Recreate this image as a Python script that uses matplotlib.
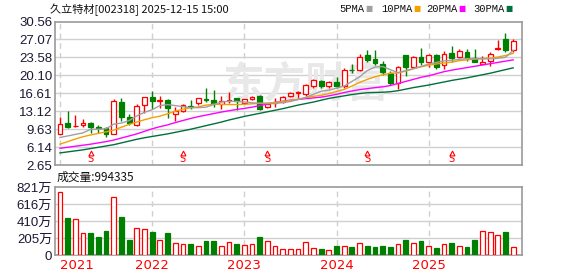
import matplotlib
matplotlib.use('Agg')
import matplotlib.pyplot as plt
import numpy as np

# monthly K-line 2021-01 .. 2025-12
opens = [8.7, 10.77, 10.15, 10.45, 10.9, 10.05, 9.86, 8.7, 15.0, 11.9,
         10.45, 14.3, 15.8, 15.12, 15.3, 12.6, 13.2, 14.15, 14.7, 15.4,
         15.3, 14.5, 15.1, 15.6, 14.8, 15.5, 16.0, 13.85, 14.8, 14.97,
         16.1, 16.7, 16.42, 18.0, 19.08, 17.95, 18.7, 17.95, 21.15, 21.05,
         24.0, 23.34, 22.26, 20.48, 18.58, 24.0, 21.8, 23.6, 22.64, 24.03,
         22.13, 24.4, 23.65, 24.54, 23.5, 22.3, 22.83, 25.3, 27.07, 25.1]
highs = [12.0, 13.19, 12.4, 11.55, 11.1, 10.4, 10.12, 15.5, 15.6, 12.6,
         14.6, 15.8, 17.0, 16.16, 15.4, 13.9, 14.5, 15.2, 15.7, 17.6,
         17.2, 16.0, 16.9, 15.6, 15.5, 16.0, 16.3, 14.6, 15.6, 16.1,
         16.86, 17.05, 18.45, 19.4, 19.2, 18.9, 19.8, 21.5, 22.26, 24.16,
         24.99, 24.99, 22.9, 20.9, 21.94, 24.1, 23.9, 25.4, 24.16, 24.16,
         24.8, 25.7, 25.2, 25.2, 25.2, 23.9, 24.54, 26.95, 28.3, 27.2]
lows = [8.6, 9.93, 10.0, 10.1, 8.9, 8.95, 8.16, 8.6, 11.2, 10.4,
        10.25, 12.7, 13.6, 13.76, 11.8, 11.3, 13.0, 13.6, 14.4, 15.0,
        13.9, 13.6, 14.8, 13.4, 14.7, 15.3, 13.4, 13.7, 13.9, 14.8,
        15.9, 15.66, 16.1, 17.7, 17.7, 17.7, 17.56, 17.7, 20.54, 20.99,
        22.64, 22.1, 20.1, 18.26, 17.5, 19.9, 21.7, 22.1, 21.8, 21.37,
        21.24, 22.64, 23.4, 22.9, 22.64, 22.26, 21.87, 24.92, 24.54, 24.7]
closes = [10.6, 10.12, 10.3, 10.9, 10.1, 9.85, 8.75, 15.1, 12.0, 10.9,
          14.16, 15.8, 15.1, 15.25, 13.8, 13.2, 14.3, 13.95, 15.6, 15.2,
          14.7, 15.1, 15.3, 15.1, 15.5, 15.95, 13.6, 14.6, 14.95, 15.8,
          16.61, 16.8, 18.13, 19.15, 17.95, 18.7, 18.1, 21.1, 21.05, 23.6,
          23.15, 22.57, 20.73, 18.58, 21.7, 21.8, 23.6, 22.6, 24.03, 21.7,
          24.16, 23.4, 24.8, 23.4, 22.64, 22.64, 24.22, 25.5, 24.99, 26.7]
# volume in 万
volumes = [765, 445, 440, 260, 264, 216, 288, 705, 456, 180,
           320, 308, 276, 176, 264, 140, 128, 132, 104, 168,
           168, 104, 152, 132, 116, 128, 216, 164, 104, 68,
           68, 68, 156, 80, 72, 56, 108, 104, 96, 140,
           108, 96, 108, 96, 128, 180, 144, 168, 104, 84,
           128, 144, 104, 96, 180, 288, 276, 236, 276, 99]

# moving average lines as drawn on the chart
ma5 = [8.0, 8.3, 8.6, 8.9, 9.6, 9.6, 9.7, 10.6, 10.8, 11.3,
       12.2, 12.9, 13.4, 14.2, 14.4, 14.2, 14.0, 13.8, 13.8, 13.9,
       14.4, 14.9, 15.05, 15.0, 14.9, 14.75, 14.65, 14.6, 14.6, 14.8,
       15.0, 15.4, 15.8, 16.4, 17.0, 17.2, 17.6, 18.0, 18.9, 19.8,
       21.0, 21.7, 21.8, 21.2, 20.6, 21.0, 21.4, 21.8, 22.3, 22.6,
       22.9, 23.0, 23.2, 23.35, 23.3, 23.3, 23.3, 23.4, 23.6, 24.9]
ma10 = [6.7, 7.2, 7.7, 8.15, 8.5, 8.8, 9.1, 9.45, 10.0, 10.55,
        11.0, 11.45, 11.85, 12.15, 12.6, 13.1, 13.5, 13.8, 13.95, 14.3,
        14.45, 14.45, 14.4, 14.4, 14.45, 14.55, 14.65, 14.7, 14.8, 15.0,
        15.2, 15.45, 15.75, 16.0, 16.2, 16.55, 16.95, 17.35, 18.0, 18.7,
        19.3, 19.8, 20.2, 20.5, 20.55, 20.9, 21.35, 21.75, 22.05, 22.3,
        22.5, 22.65, 22.95, 23.1, 23.25, 23.35, 23.45, 23.65, 23.95, 24.35]
ma20 = [5.9, 6.1, 6.3, 6.5, 6.7, 6.95, 7.2, 7.5, 7.9, 8.3,
        8.7, 9.2, 9.7, 10.1, 10.45, 10.9, 11.3, 11.7, 12.05, 12.35,
        12.65, 12.95, 13.2, 13.45, 13.65, 13.9, 14.2, 14.5, 14.8, 15.05,
        15.25, 15.4, 15.55, 15.7, 15.85, 16.1, 16.4, 16.75, 17.05, 17.3,
        17.5, 17.7, 17.85, 18.1, 18.5, 18.9, 19.3, 19.7, 20.0, 20.4,
        20.8, 21.1, 21.35, 21.6, 21.85, 22.1, 22.35, 22.6, 22.85, 23.1]
ma30 = [5.0, 5.2, 5.4, 5.6, 5.85, 6.1, 6.35, 6.6, 6.95, 7.3,
        7.65, 7.95, 8.2, 8.45, 8.7, 9.0, 9.3, 9.6, 9.95, 10.3,
        10.65, 11.0, 11.4, 11.75, 12.1, 12.4, 12.7, 13.0, 13.3, 13.6,
        13.95, 14.3, 14.6, 14.9, 15.25, 15.6, 15.85, 16.1, 16.35, 16.55,
        16.7, 16.75, 16.8, 16.9, 17.1, 17.4, 17.7, 17.95, 18.2, 18.5,
        18.8, 19.1, 19.35, 19.6, 19.9, 20.2, 20.5, 20.85, 21.2, 21.55]

years = ['2021', '2022', '2023', '2024', '2025']
year_start = [0, 12, 24, 36, 48]
price_ticks = [2.65, 6.14, 9.63, 13.12, 16.61, 20.10, 23.58, 27.07, 30.56]
price_labels = ['2.65', '6.14', '9.63', '13.12', '16.61', '20.10', '23.58', '27.07', '30.56']
vol_ticks = [0, 205, 410, 616, 821]
vol_labels = ['0', '205万', '410万', '616万', '821万']
split_months = [4, 16, 27, 40, 51]
ma_names = ['5PMA', '10PMA', '20PMA', '30PMA']

RED = '#ff0000'
GREEN = '#008000'
MA_COLORS = ['#a0a0a0', '#f5a000', '#ff00ff', '#00703c']
GRID = '#d0d0d0'
FRAME = '#999999'
LABEL = '#1a1a33'
CJK = ['Noto Sans CJK SC', 'DejaVu Sans']

W, H = 578, 276
fig = plt.figure(figsize=(W / 100, H / 100), dpi=100)
fig.patch.set_facecolor('white')


def px(x, y):
    return x / W, 1 - y / H


def axes_px(left, top, right, bottom):
    return [left / W, 1 - bottom / H, (right - left) / W, (bottom - top) / H]


x = np.arange(len(closes))
o = np.array(opens)
c = np.array(closes)
up = c >= o
colors = np.where(up, RED, GREEN)
faces = np.where(up, 'white', GREEN)
xlim = (-0.65, 60.15)
bw = 0.62

# ---- price panel
ax = fig.add_axes(axes_px(55, 21.5, 522, 165))
ax.set_xlim(*xlim)
ax.set_ylim(price_ticks[0], price_ticks[-1])
for t in price_ticks[1:-1]:
    ax.axhline(t, color=GRID, lw=1, zorder=0)
for s in year_start:
    ax.axvline(s, color=GRID, lw=1, ls=(0, (4, 3)), zorder=0)

# faint watermark
ax.text(32.0, 18.4, '东方财富', fontsize=30, fontweight='bold', color='#e8e8e8',
        family=CJK, ha='center', va='center', zorder=0.5)

ax.vlines(x, lows, highs, colors=colors, lw=1, zorder=2)
body = np.maximum(np.abs(c - o), 0.08)
ax.bar(x, body, bottom=np.minimum(o, c), width=bw, color=faces,
       edgecolor=colors, linewidth=0.9, zorder=3)

for vals, col in zip([ma30, ma20, ma10, ma5], MA_COLORS[::-1]):
    ax.plot(x, vals, color=col, lw=1.0, zorder=4)

for m in split_months:
    ax.text(m, 3.75, 'S', color=RED, fontsize=7, ha='center', va='center',
            family='DejaVu Sans', zorder=5)
    ax.plot(m, 4.95, marker='^', ms=3.5, mfc='white', mec=RED, mew=0.8, zorder=5)

ax.set_yticks(price_ticks)
ax.set_yticklabels(price_labels)
ax.set_xticks([])
ax.tick_params(axis='y', length=0, pad=2, labelsize=9.5, labelcolor=LABEL)
for lab in ax.get_yticklabels():
    lab.set_family('Liberation Sans')
for sp in ax.spines.values():
    sp.set_color(FRAME)
    sp.set_linewidth(1.2)

# ---- volume panel
axv = fig.add_axes(axes_px(55, 187, 522, 255))
axv.set_xlim(*xlim)
axv.set_ylim(0, 821)
for t in vol_ticks[1:-1]:
    axv.axhline(t, color=GRID, lw=1, zorder=0)
for s in year_start:
    axv.axvline(s, color=GRID, lw=1, ls=(0, (4, 3)), zorder=0)
axv.bar(x, volumes, width=bw, color=faces, edgecolor=colors, linewidth=0.9, zorder=3)
axv.set_yticks(vol_ticks)
axv.set_yticklabels(vol_labels)
axv.tick_params(axis='y', length=0, pad=2, labelsize=9.5, labelcolor=LABEL)
for lab in axv.get_yticklabels():
    lab.set_family(['Liberation Sans', 'Noto Sans CJK SC'])
axv.set_xticks(year_start)
axv.set_xticklabels(years)
axv.tick_params(axis='x', length=0, pad=3, labelsize=9.5, labelcolor=RED)
for lab in axv.get_xticklabels():
    lab.set_family('DejaVu Sans')
axv.get_xticklabels()[0].set_horizontalalignment('left')
axv.get_xticklabels()[0].set_x(-0.65)
for sp in axv.spines.values():
    sp.set_color(FRAME)
    sp.set_linewidth(1.2)

# ---- header texts
fig.text(*px(50, 9.5), '久立特材[002318] 2025-12-15 15:00', fontsize=8.0,
         family=CJK, color='#111111', ha='left', va='center')
leg_x = [339, 381, 426, 473]
for name, col, lx in zip(ma_names, MA_COLORS, leg_x):
    fig.text(*px(lx, 9), name, fontsize=7.6, family='Liberation Mono',
             color='#111111', ha='left', va='center')
    fig.text(*px(lx + len(name) * 6.1 + 2, 9), '■', fontsize=5.5,
             family='DejaVu Sans', color=col, ha='left', va='center')
fig.text(*px(57, 177), '成交量:994335', fontsize=8.5, family=CJK,
         color='#111111', ha='left', va='center')

fig.savefig('out.png', dpi=100, facecolor='white')
